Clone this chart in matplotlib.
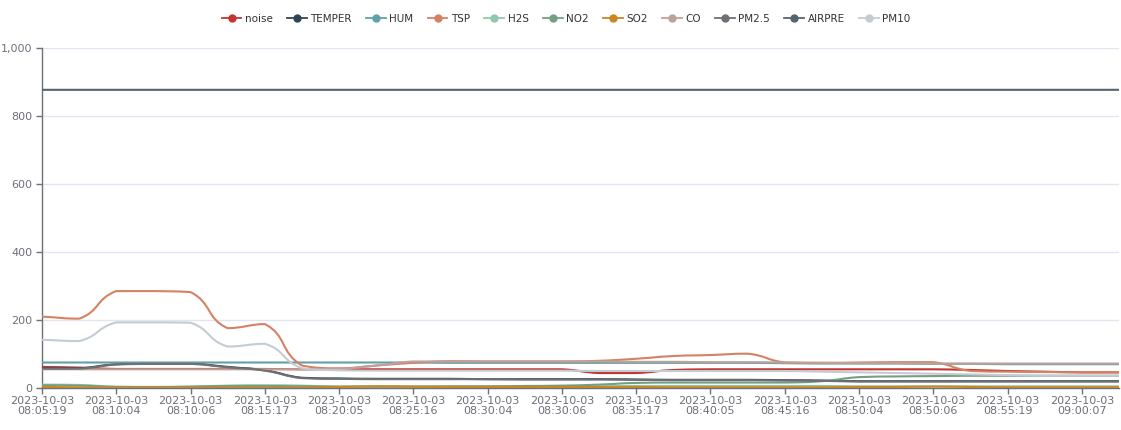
import matplotlib

matplotlib.use("Agg")
import matplotlib.pyplot as plt
import numpy as np
from matplotlib.lines import Line2D
from matplotlib.patches import PathPatch
from matplotlib.path import Path

# 30 samples, one label shown every second sample
times = [
    "08:05:19", "08:07:40", "08:10:04", "08:10:05", "08:10:06", "08:12:40",
    "08:15:17", "08:17:40", "08:20:05", "08:22:40", "08:25:16", "08:27:40",
    "08:30:04", "08:30:05", "08:30:06", "08:32:40", "08:35:17", "08:37:40",
    "08:40:05", "08:42:40", "08:45:16", "08:47:40", "08:50:04", "08:50:05",
    "08:50:06", "08:52:40", "08:55:19", "08:57:40", "09:00:07", "09:02:30",
]
dates = ["2023-10-03"] * len(times)

noise = [62, 60, 56, 56, 56, 56, 56, 55, 55, 55, 55, 55, 55, 55, 55, 44, 44, 53, 55, 55,
         55, 55, 55, 55, 55, 53, 50, 48, 46, 46]
temper = [58, 58, 70, 72, 72, 62, 52, 30, 28, 27, 27, 27, 26, 26, 26, 26, 25, 24, 24, 24,
          23, 22, 20, 20, 20, 20, 20, 20, 20, 20]
hum = [75, 75, 75, 75, 75, 75, 75, 75, 75, 75, 75, 74, 74, 74, 74, 74, 74, 74, 74, 74,
       73, 72, 72, 72, 71, 71, 70, 70, 70, 70]
tsp = [210, 204, 285, 285, 282, 176, 188, 66, 58, 66, 74, 79, 78, 78, 78, 80, 86, 94, 97, 101,
       75, 74, 75, 76, 76, 50, 48, 47, 46, 46]
h2s = [10, 9, 4, 3, 4, 7, 8, 7, 4, 4, 4, 4, 4, 4, 5, 5, 6, 6, 6, 6,
       6, 6, 5, 5, 5, 5, 5, 5, 5, 5]
no2 = [8, 7, 3, 3, 4, 6, 6, 5, 4, 4, 4, 5, 5, 6, 7, 10, 15, 16, 16, 16,
       16, 20, 32, 34, 35, 36, 36, 36, 36, 36]
so2 = [3, 2, 1, 1, 1, 1, 1, 1, 3, 5, 4, 3, 3, 3, 3, 3, 3, 2, 2, 2,
       2, 2, 3, 3, 4, 3, 2, 2, 2, 2]
co = [55, 55, 55, 55, 55, 55, 55, 55, 56, 66, 78, 78, 78, 78, 78, 78, 77, 77, 76, 76,
      75, 74, 73, 73, 72, 72, 72, 72, 72, 72]
pm25 = [57, 57, 69, 71, 71, 61, 51, 29, 27, 26, 26, 26, 26, 25, 25, 25, 24, 23, 23, 23,
        22, 21, 19, 19, 19, 19, 19, 19, 19, 19]
airpre = [877] * 30
pm10 = [142, 138, 193, 193, 192, 122, 130, 58, 52, 51, 51, 51, 51, 51, 51, 50, 50, 50, 50, 50,
        50, 48, 46, 44, 42, 40, 38, 36, 36, 36]

series = [
    ("noise", noise, "#c23531"),
    ("TEMPER", temper, "#2f4554"),
    ("HUM", hum, "#61a0a8"),
    ("TSP", tsp, "#d48265"),
    ("H2S", h2s, "#91c7ae"),
    ("NO2", no2, "#749f83"),
    ("SO2", so2, "#ca8622"),
    ("CO", co, "#bda29a"),
    ("PM2.5", pm25, "#6e7074"),
    ("AIRPRE", airpre, "#546570"),
    ("PM10", pm10, "#c4ccd3"),
]

AXIS_C = "#6e7079"
GRID_C = "#e0e6f1"


def smooth_path(ax, x, y, smooth=0.5):
    """Courbe de Bézier façon ECharts (sans dépassement), calculée en pixels."""
    pts = ax.transData.transform(np.column_stack([x, y]))
    n = len(pts)
    verts = [pts[0]]
    codes = [Path.MOVETO]
    for i in range(n - 1):
        p0, p1 = pts[i], pts[i + 1]
        prev = pts[i - 1] if i > 0 else p0
        nxt = pts[i + 2] if i + 2 < n else p1
        lo, hi = min(p0[1], p1[1]), max(p0[1], p1[1])
        v = (p1 - prev) * smooth
        d0 = np.hypot(*(p0 - prev))
        d1 = np.hypot(*(p1 - p0))
        r = d1 / (d0 + d1) if d0 + d1 else 0.5
        c1 = p0 + v * r
        v = (nxt - p0) * smooth
        d0 = np.hypot(*(p1 - p0))
        d1 = np.hypot(*(nxt - p1))
        r = d0 / (d0 + d1) if d0 + d1 else 0.5
        c2 = p1 - v * r
        c1[1] = np.clip(c1[1], lo, hi)
        c2[1] = np.clip(c2[1], lo, hi)
        verts += [c1, c2, p1]
        codes += [Path.CURVE4] * 3
    verts = ax.transData.inverted().transform(np.array(verts))
    return Path(verts, codes)


fig = plt.figure(figsize=(11.21, 4.30), dpi=100)
ax = fig.add_axes((42 / 1121, 42 / 430, 1077 / 1121, 340 / 430))

n = len(times)
xs = np.arange(n)
ax.set_xlim(0, n - 1)
ax.set_ylim(0, 1000)

for name, vals, color in series:
    patch = PathPatch(smooth_path(ax, xs, vals), facecolor="none", edgecolor=color,
                      lw=1.5, capstyle="round", joinstyle="round", zorder=3)
    ax.add_patch(patch)

ax.set_yticks(range(0, 1001, 200))
ax.set_yticklabels([f"{v:,}" for v in range(0, 1001, 200)])
ax.yaxis.grid(True, color=GRID_C, lw=1)
ax.set_axisbelow(True)

shown = xs[::2]
ax.set_xticks(shown)
ax.set_xticklabels([f"{dates[i]}\n{times[i]}" for i in shown], linespacing=1.0)

for side in ("top", "right"):
    ax.spines[side].set_visible(False)
for side in ("left", "bottom"):
    ax.spines[side].set_color(AXIS_C)
    ax.spines[side].set_linewidth(1)
ax.tick_params(axis="both", colors=AXIS_C, labelsize=8, length=4, width=1)
ax.tick_params(axis="x", pad=2)
ax.tick_params(axis="y", pad=3)

handles = [
    Line2D([], [], color=c, lw=1.3, marker="o", markersize=5, markerfacecolor=c,
           markeredgecolor=c)
    for _, _, c in series
]
fig.legend(handles, [s[0] for s in series], loc="upper center", ncol=len(series),
           bbox_to_anchor=(0.505, 0.99), frameon=False, fontsize=7.5, handlelength=1.9,
           handletextpad=0.35, columnspacing=1.35, labelcolor="#333333")

fig.savefig("out.png", dpi=100, facecolor="white")
